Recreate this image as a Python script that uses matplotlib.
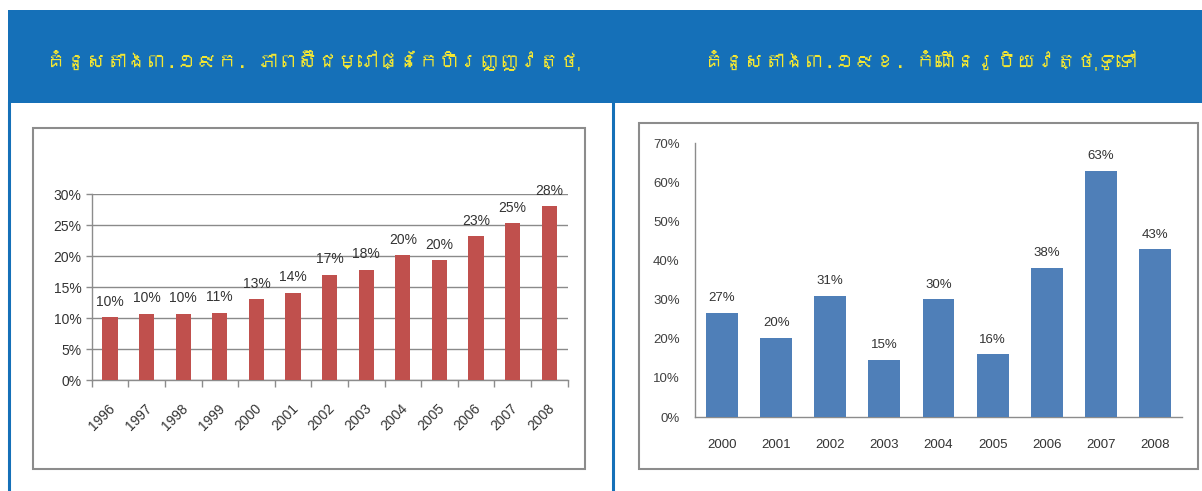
import matplotlib
matplotlib.use("Agg")
import matplotlib.pyplot as plt
from matplotlib.patches import Rectangle
from matplotlib.lines import Line2D
from matplotlib import font_manager, ft2font
import numpy as np

# ---------------- data ----------------
title_left = "គំនូសតាង៣.១៩ក. ភាពស៊ីជម្រៅផ្នែកហិរញ្ញវត្ថុ"
title_right = "គំនូសតាង៣.១៩ខ. កំណើនរូបិយវត្ថុទូទៅ"

years_left = ["1996", "1997", "1998", "1999", "2000", "2001", "2002",
              "2003", "2004", "2005", "2006", "2007", "2008"]
values_left = [10.1, 10.7, 10.7, 10.9, 13.1, 14.1, 17.0, 17.8, 20.2, 19.4, 23.2, 25.3, 28.1]
labels_left = ["10%", "10%", "10%", "11%", "13%", "14%", "17%", "18%",
               "20%", "20%", "23%", "25%", "28%"]
yticks_left = [0, 5, 10, 15, 20, 25, 30]

years_right = ["2000", "2001", "2002", "2003", "2004", "2005", "2006", "2007", "2008"]
values_right = [26.7, 20.3, 31.0, 14.7, 30.2, 16.1, 38.2, 63.0, 43.0]
labels_right = ["27%", "20%", "31%", "15%", "30%", "16%", "38%", "63%", "43%"]
yticks_right = [0, 10, 20, 30, 40, 50, 60, 70]

# ---------------- fonts ----------------
def find_font(ch):
    for f in font_manager.fontManager.ttflist:
        try:
            ft = ft2font.FT2Font(f.fname)
            if ord(ch) in ft.get_charmap():
                return f.name
        except Exception:
            pass
    return None

khmer_font = find_font("គ")
title_family = [khmer_font, "DejaVu Sans"] if khmer_font else ["DejaVu Sans"]
plt.rcParams["font.family"] = ["Liberation Sans", "DejaVu Sans"]

W, H = 1202, 491
fig = plt.figure(figsize=(W / 100, H / 100), dpi=100)
fig.patch.set_facecolor("white")

BLUE = "#1570B8"
YELLOW = "#F2E634"
GRAY = "#8C8C8C"


def fx(px):
    return px / W


def fy(py):
    return 1 - py / H


# banner
fig.add_artist(Rectangle((fx(8), fy(103)), fx(W - 8), (103 - 10) / H,
                         transform=fig.transFigure, facecolor=BLUE, edgecolor="none", zorder=0))
# vertical blue lines
fig.add_artist(Line2D([fx(9), fx(9)], [0, fy(103)], transform=fig.transFigure, color=BLUE, lw=2.2))
fig.add_artist(Line2D([fx(613), fx(613)], [0, fy(103)], transform=fig.transFigure, color=BLUE, lw=2.2))

# gray boxes
fig.add_artist(Rectangle((fx(33), fy(469)), fx(585 - 33), (469 - 128) / H, transform=fig.transFigure,
                         facecolor="none", edgecolor=GRAY, lw=1.5, zorder=0))
fig.add_artist(Rectangle((fx(639), fy(469)), fx(1198 - 639), (469 - 123) / H, transform=fig.transFigure,
                         facecolor="none", edgecolor=GRAY, lw=1.5, zorder=0))

# titles
fig.text(fx(313), fy(60), title_left, color=YELLOW, fontsize=14.5, fontstyle="italic",
         family=title_family, ha="center", va="center")
fig.text(fx(920), fy(60), title_right, color=YELLOW, fontsize=14.5, fontstyle="italic",
         family=title_family, ha="center", va="center")

# ---------------- left chart ----------------
L0, L1, T0, B0 = 91.7, 567.5, 194.3, 380
ax1 = fig.add_axes([fx(L0), fy(B0), fx(L1 - L0), (B0 - T0) / H])
ax1.set_facecolor("none")
x1 = np.arange(len(years_left))
ax1.bar(x1, values_left, width=0.42, color="#C0504D", zorder=3)
ax1.set_xlim(-0.5, len(years_left) - 0.5)
ax1.set_ylim(0, 30)
ax1.set_yticks(yticks_left)
ax1.set_yticklabels([f"{v}%" for v in yticks_left])
for v in yticks_left:
    ax1.axhline(v, color="#8A8A8A", lw=1.0, zorder=1)
ax1.set_xticks(x1 + 0.08)
ax1.set_xticklabels(years_left, rotation=45, ha="right", va="center", rotation_mode="anchor")
ax1.set_xticks(np.arange(-0.5, len(years_left)), minor=True)
ax1.tick_params(axis="x", which="major", length=0, pad=19, labelsize=10, labelcolor="#333333")
ax1.tick_params(axis="x", which="minor", length=5, color=GRAY, width=1)
ax1.tick_params(axis="y", length=4, color=GRAY, width=1, pad=3.5, labelsize=10, labelcolor="#333333")
for s in ["top", "right"]:
    ax1.spines[s].set_visible(False)
for s in ["left", "bottom"]:
    ax1.spines[s].set_color(GRAY)
    ax1.spines[s].set_linewidth(1.0)
for xi, v, lab in zip(x1, values_left, labels_left):
    ax1.annotate(lab, (xi, v), xytext=(0, 6), textcoords="offset points", ha="center", va="bottom",
                 fontsize=10, color="#333333", annotation_clip=False)

# ---------------- right chart ----------------
R0, R1, RT, RB = 695, 1182, 143.3, 417
ax2 = fig.add_axes([fx(R0), fy(RB), fx(R1 - R0), (RB - RT) / H])
ax2.set_facecolor("none")
x2 = np.arange(len(years_right))
ax2.bar(x2, values_right, width=0.59, color="#4F7FB8", zorder=3)
ax2.set_xlim(-0.5, len(years_right) - 0.5)
ax2.set_ylim(0, 70)
ax2.set_yticks(yticks_right)
ax2.set_yticklabels([f"{v}%" for v in yticks_right])
ax2.set_xticks(x2)
ax2.set_xticklabels(years_right)
ax2.tick_params(axis="x", length=0, pad=16, labelsize=9.5, labelcolor="#333333")
ax2.tick_params(axis="y", length=0, pad=11, labelsize=9.5, labelcolor="#404040")
for s in ["top", "right"]:
    ax2.spines[s].set_visible(False)
for s in ["left", "bottom"]:
    ax2.spines[s].set_color(GRAY)
    ax2.spines[s].set_linewidth(1.0)
for xi, v, lab in zip(x2, values_right, labels_right):
    ax2.annotate(lab, (xi, v), xytext=(0, 6), textcoords="offset points", ha="center", va="bottom",
                 fontsize=9.5, color="#333333", annotation_clip=False)

fig.savefig("out.png", dpi=100)
